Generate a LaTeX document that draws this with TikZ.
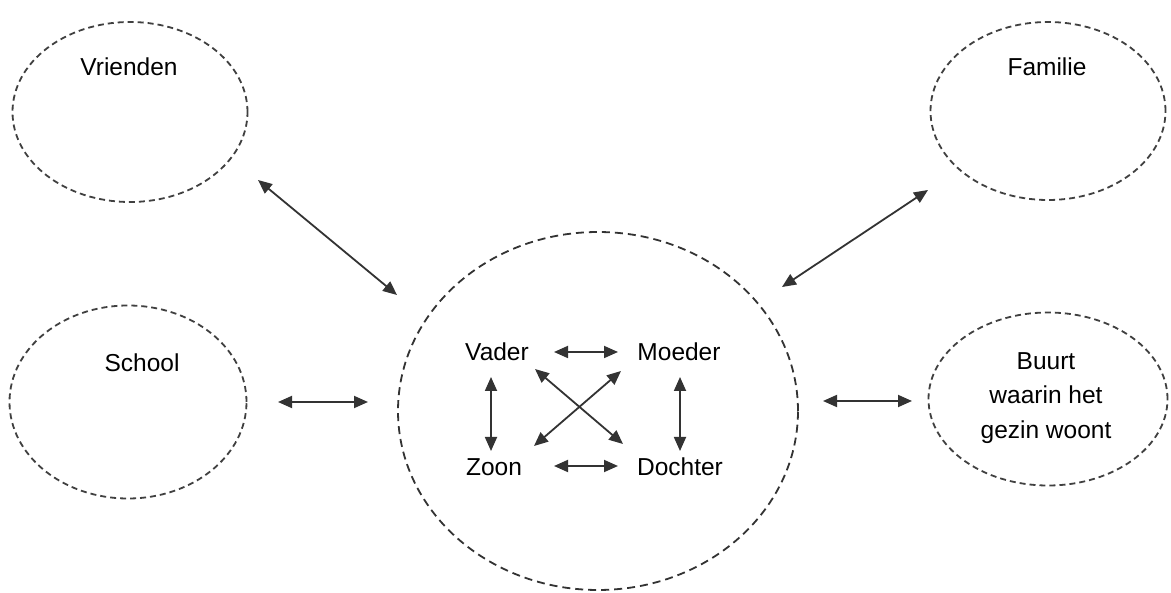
\documentclass[tikz,border=0pt]{standalone}
\usepackage{fontspec}
\setmainfont{Liberation Sans}
\usetikzlibrary{shapes.geometric,arrows.meta}
\begin{document}
\begin{tikzpicture}[x=1pt,y=-1pt,
  ring/.style={draw=black!75, line width=1.8pt, dash pattern=on 6pt off 4pt, ellipse, inner sep=0pt},
  bigring/.style={draw=black!80, line width=1.8pt, dash pattern=on 8pt off 5pt, ellipse, inner sep=0pt},
  lbl/.style={font=\fontsize{24.5}{34.5}\selectfont, text=black, inner sep=0pt, align=center},
  link/.style={draw=black!80, line width=1.8pt, {Triangle[length=14pt,width=12pt]}-{Triangle[length=14pt,width=12pt]}}]
\useasboundingbox (0,0) rectangle (1171,593);
\fill[white] (0,0) rectangle (1171,593);
% outer circles
\node[ring, minimum width=235pt, minimum height=180pt] (vr) at (130,112) {};
\node[ring, minimum width=235pt, minimum height=178pt] (fa) at (1048,111) {};
\node[ring, minimum width=237pt, minimum height=193pt] (sc) at (128,402) {};
\node[ring, minimum width=239pt, minimum height=173pt] (bu) at (1048,399) {};
\node[bigring, minimum width=400pt, minimum height=358pt] (gz) at (598,411) {};
% labels
\node[lbl] (tvr) at (129,67) {Vrienden};
\node[lbl] (tfa) at (1047,67) {Familie};
\node[lbl] (tsc) at (142,363) {School};
\node[lbl] (tbu) at (1046,398) {Buurt\\waarin het\\gezin woont};
\node[lbl] (va) at (497,352) {Vader};
\node[lbl] (mo) at (679,352) {Moeder};
\node[lbl] (zo) at (494,467) {Zoon};
\node[lbl] (do) at (680,467) {Dochter};
% arrow end points
\coordinate (a1) at (258,180); \coordinate (a2) at (397,295);
\coordinate (b1) at (928,190); \coordinate (b2) at (782,287);
\coordinate (c1) at (278,402); \coordinate (c2) at (368,402);
\coordinate (d1) at (823,401); \coordinate (d2) at (912,401);
\coordinate (vm1) at (554,352); \coordinate (vm2) at (618,352);
\coordinate (zd1) at (554,466); \coordinate (zd2) at (618,466);
\coordinate (vz1) at (491,377); \coordinate (vz2) at (491,451);
\coordinate (md1) at (680,377); \coordinate (md2) at (680,451);
\coordinate (x1) at (535,369); \coordinate (x2) at (623,444);
\coordinate (y1) at (621,371); \coordinate (y2) at (534,446);
% connectors
\draw[link] (a1) -- (a2);
\draw[link] (b1) -- (b2);
\draw[link] (c1) -- (c2);
\draw[link] (d1) -- (d2);
\draw[link] (vm1) -- (vm2);
\draw[link] (zd1) -- (zd2);
\draw[link] (vz1) -- (vz2);
\draw[link] (md1) -- (md2);
\draw[link] (x1) -- (x2);
\draw[link] (y1) -- (y2);
\end{tikzpicture}
\end{document}
